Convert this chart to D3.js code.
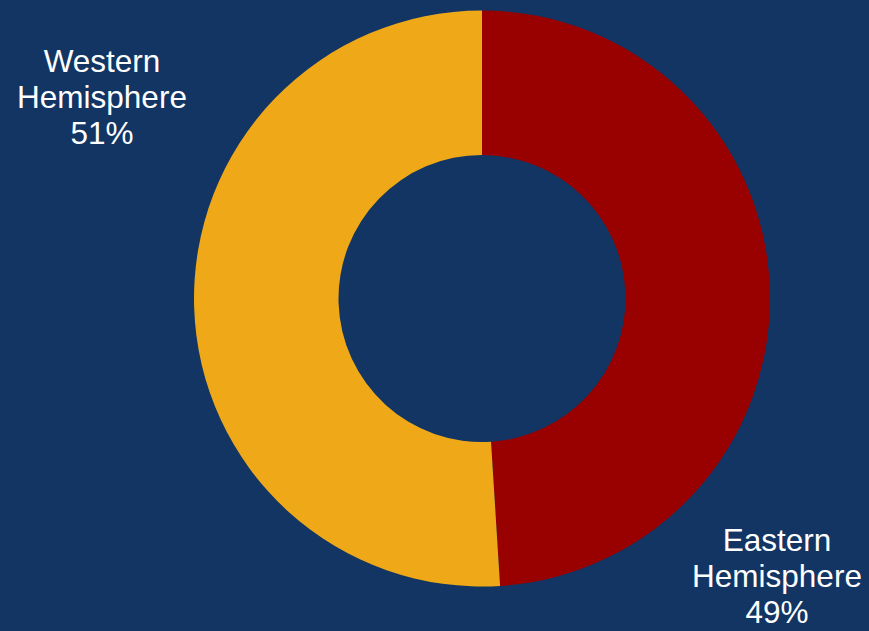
<!DOCTYPE html>
<html>
<head>
<meta charset="utf-8">
<script src="https://cdn.jsdelivr.net/npm/d3@7"></script>
<style>
  html, body { margin: 0; padding: 0; background: #123564; }
  svg { display: block; }
</style>
</head>
<body>
<div id="picture"></div>
<script>
var categories = ["Eastern Hemisphere", "Western Hemisphere"];
var values = [49, 51];
var colors = ["#990000", "#efa918"];

function draw() {
    "use strict";

    var width = 869, height = 631;
    var cx = 482, cy = 298.5, outer = 288, inner = 143.5;

    var svg = d3.select("#picture")
        .append("svg")
        .attr("width", width)
        .attr("height", height);

    svg.append("rect")
        .attr("width", width)
        .attr("height", height)
        .attr("fill", "#123564");

    var pie = d3.pie().sort(null).value(function (d) { return d; });
    var arc = d3.arc().innerRadius(inner).outerRadius(outer);

    var data = values.map(function (v, i) { return { v: v, name: categories[i], color: colors[i] }; });
    var arcs = pie(values);

    var g = svg.append("g")
        .attr("transform", "translate(" + cx + "," + cy + ")");

    g.selectAll("path")
        .data(arcs)
        .enter()
        .append("path")
        .attr("d", arc)
        .attr("fill", function (d, i) { return colors[i]; });

    // label positions, one per slice
    var labelPos = [[777, 551], [102, 72]];

    var labels = svg.selectAll(".label")
        .data(data)
        .enter()
        .append("text")
        .attr("class", "label")
        .attr("text-anchor", "middle")
        .attr("fill", "#ffffff")
        .style("font-family", "Liberation Sans, Arial, sans-serif")
        .style("font-size", "31.5px");

    labels.each(function (d, i) {
        var t = d3.select(this);
        var words = d.name.split(" ").concat([d.v + "%"]);
        words.forEach(function (w, j) {
            t.append("tspan")
                .attr("x", labelPos[i][0])
                .attr("y", labelPos[i][1] + j * 36)
                .text(w);
        });
    });
}

draw();
</script>
</body>
</html>
